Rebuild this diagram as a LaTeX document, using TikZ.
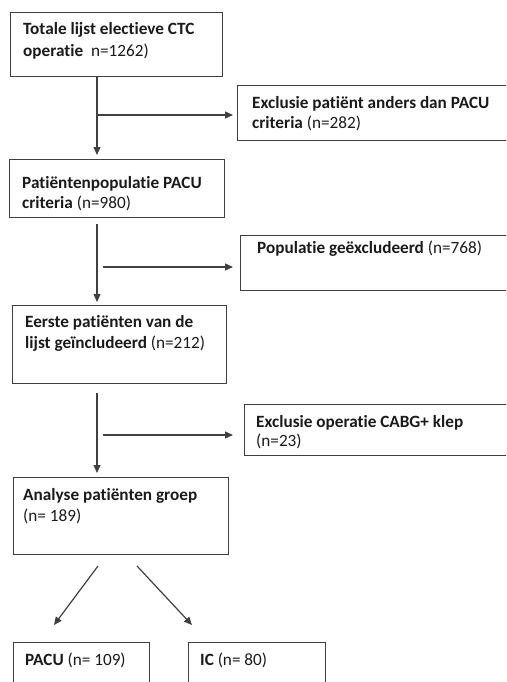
\documentclass[tikz,border=0pt]{standalone}
\usepackage{fontspec}
\setmainfont{Carlito}[Ligatures=NoCommon]
\usetikzlibrary{arrows.meta}
\definecolor{lin}{RGB}{64,64,64}
\definecolor{txt}{RGB}{26,26,26}
\tikzset{
  box/.style={draw=lin, line width=1.2pt, anchor=north west, inner sep=0pt},
  lbl/.style={anchor=base west, inner sep=0pt, align=left, text=txt,
    font=\fontsize{17.2}{#1}\selectfont},
  lbl/.default=21,
  arr/.style={draw=lin, line width=1.2pt, -{Triangle[length=8pt,width=7pt]}},
}
\begin{document}
\begin{tikzpicture}[x=1pt,y=-1pt]
\useasboundingbox (0,0) rectangle (506,682);
\clip (0,0) rectangle (506,682);
% boxes
\node[box, minimum width=212pt, minimum height=64pt] (b1) at (10,12) {};
\node[box, minimum width=215pt, minimum height=58pt] (b2) at (9,159) {};
\node[box, minimum width=214pt, minimum height=78pt] (b3) at (12,305) {};
\node[box, minimum width=215pt, minimum height=77pt] (b4) at (13,477) {};
\node[box, minimum width=280pt, minimum height=55pt] (e1) at (237,85) {};
\node[box, minimum width=280pt, minimum height=55pt] (e2) at (240,235) {};
\node[box, minimum width=280pt, minimum height=51pt] (e3) at (244,404) {};
\node[box, minimum width=136pt, minimum height=60pt] (p) at (13,642) {};
\node[box, minimum width=137pt, minimum height=60pt] (ic) at (188,642) {};
% texts (anchor = baseline of last line)
\node[lbl=21.7] (t1) at (23,56.7) {\textbf{Totale lijst electieve CTC}\\\textbf{operatie}\ \ n=1262)};
\node[lbl=20.5] (t2) at (22,208.5) {\textbf{Patiëntenpopulatie PACU}\\\textbf{criteria} (n=980)};
\node[lbl=20.6] (t3) at (25,348.3) {\textbf{Eerste patiënten van de}\\\textbf{lijst geïncludeerd} (n=212)};
\node[lbl=21.5] (t4) at (23,521.5) {\textbf{Analyse patiënten groep}\\(n= 189)};
\node[lbl=19.8] (te1) at (252,128.3) {\textbf{Exclusie patiënt anders dan PACU}\\\textbf{criteria} (n=282)};
\node[lbl] (te2) at (257,253) {\textbf{Populatie geëxcludeerd} (n=768)};
\node[lbl=19] (te3) at (256,446) {\textbf{Exclusie operatie CABG+ klep}\\(n=23)};
\node[lbl] (tp) at (25,665) {\textbf{PACU} (n= 109)};
\node[lbl] (tic) at (200,665) {\textbf{IC} (n= 80)};
% trunk coordinates
\coordinate (v) at (97,0);
\coordinate (h1) at (0,115);
\coordinate (h2) at (0,267);
\coordinate (h3) at (0,435);
\coordinate (s2) at (103,0);
% connectors
\draw[arr, shorten >=4pt] (b1.south -| v) -- (b2.north -| v);
\draw[arr, shorten >=4pt] (v |- h1) -- (e1.west |- h1);
\draw[arr, shorten <=6pt, shorten >=3pt] (b2.south -| v) -- (b3.north -| v);
\draw[arr, shorten >=7pt] (s2 |- h2) -- (e2.west |- h2);
\draw[arr, shorten <=9pt, shorten >=4pt] (b3.south -| v) -- (b4.north -| v);
\draw[arr, shorten >=11pt] (s2 |- h3) -- (e3.west |- h3);
\coordinate (d1s) at (98,566);
\coordinate (d1e) at (54,625);
\coordinate (d2s) at (137,566);
\coordinate (d2e) at (192,625);
\draw[arr] (d1s) -- (d1e);
\draw[arr] (d2s) -- (d2e);
\end{tikzpicture}
\end{document}
